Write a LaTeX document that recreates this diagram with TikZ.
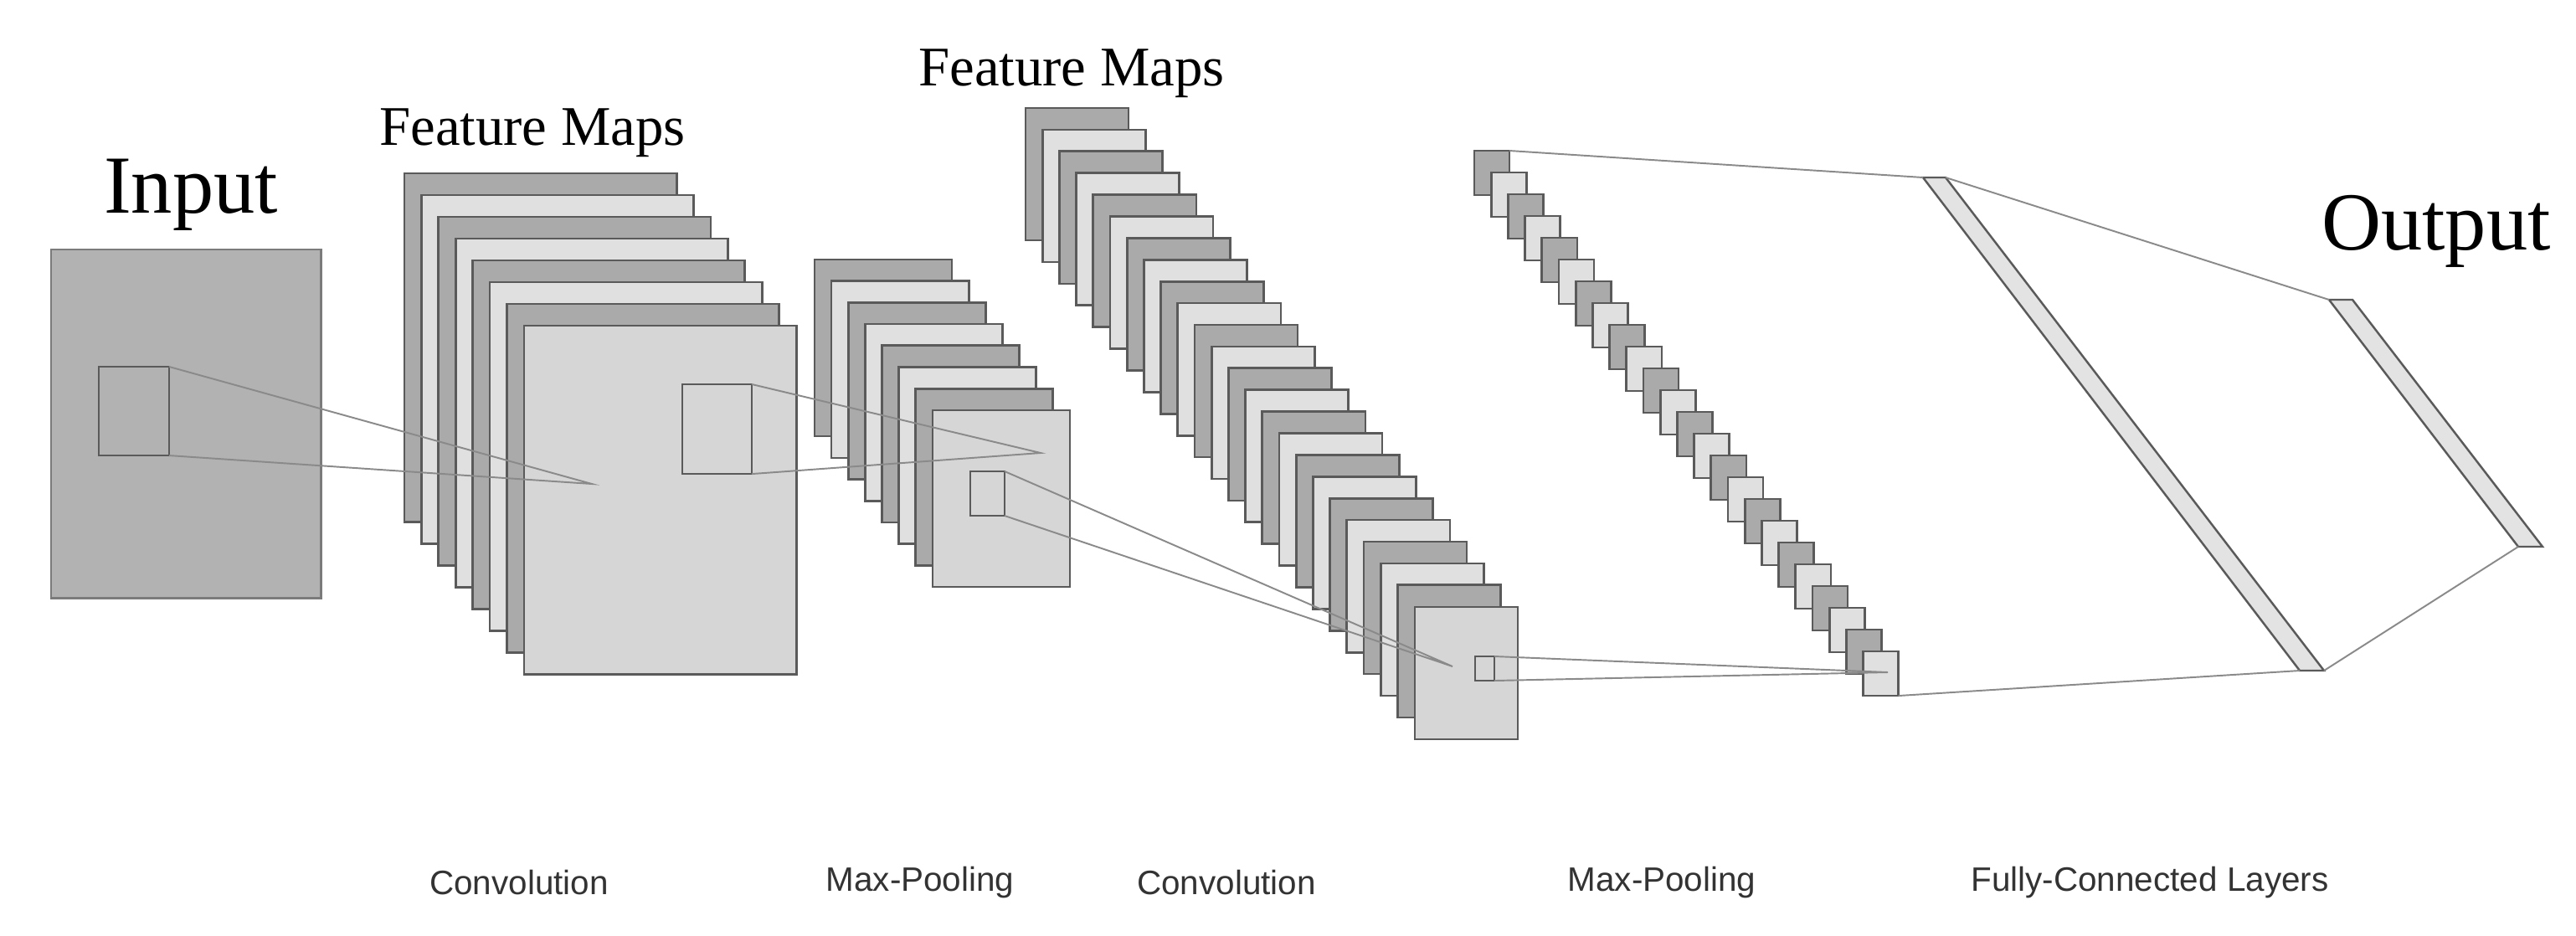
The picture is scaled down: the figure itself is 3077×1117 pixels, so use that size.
\documentclass[tikz,border=0pt]{standalone}
\usepackage{fontspec}
\setmainfont{Liberation Serif}
\newfontfamily\sansf{Liberation Sans}
\definecolor{dk}{HTML}{AAAAAA}
\definecolor{lt}{HTML}{E0E0E0}
\definecolor{fr}{HTML}{D6D6D6}
\definecolor{ol}{HTML}{5A5A5A}
\definecolor{ln}{HTML}{8A8A8A}
\definecolor{lab}{HTML}{333333}
\begin{document}
\begin{tikzpicture}[x=0.01cm,y=-0.01cm,
  box/.style={draw=ol,line width=0.75pt,inner sep=0pt,outer sep=0pt,anchor=north west},
  big/.style={box,minimum width=3.25cm,minimum height=4.16cm},
  mid/.style={box,minimum width=1.64cm,minimum height=2.11cm},
  tall/.style={box,minimum width=1.23cm,minimum height=1.58cm},
  tiny/.style={box,minimum width=0.42cm,minimum height=0.53cm},
  conn/.style={draw=ln,line width=0.55pt},
  bar/.style={draw=ol,line width=0.7pt,fill=lt!90!white},
  ttl/.style={font=\fontsize{28}{30}\selectfont,anchor=base},
  fmt/.style={font=\fontsize{19}{21}\selectfont,anchor=base},
  lbl/.style={font=\sansf\fontsize{11.5}{13}\selectfont,text=lab}]
\useasboundingbox (0,0) rectangle (3077,1117);
\fill[white] (0,0) rectangle (3077,1117);

% Input
\node[ttl] (tin) at (228,254) {Input};
\node[box,fill=dk!90!white,draw=ol!80!white,minimum width=3.22cm,minimum height=4.16cm] (inp) at (61,298) {};
\node[box,minimum width=0.84cm,minimum height=1.06cm] (insq) at (118,438) {};

% Conv 1
\node[fmt] (tf1) at (636,173) {Feature Maps};
\foreach \i in {0,...,6}{
  \pgfmathsetmacro\xx{483+20.4*\i}\pgfmathsetmacro\yy{207+26*\i}
  \ifodd\i \def\cc{lt}\else\def\cc{dk}\fi
  \node[big,fill=\cc] (c1-\i) at (\xx,\yy) {};
}
\node[big,fill=fr] (c1-7) at (626,389) {};
\node[box,minimum width=0.83cm,minimum height=1.07cm] (c1sq) at (815,459) {};

% Pool 1
\foreach \i in {0,...,6}{
  \pgfmathsetmacro\xx{973+20.1*\i}\pgfmathsetmacro\yy{310+25.7*\i}
  \ifodd\i \def\cc{lt}\else\def\cc{dk}\fi
  \node[mid,fill=\cc] (p1-\i) at (\xx,\yy) {};
}
\node[mid,fill=fr] (p1-7) at (1114,490) {};
\node[box,minimum width=0.41cm,minimum height=0.53cm] (p1sq) at (1159,563) {};

% Conv 2
\node[fmt] (tf2) at (1280,102) {Feature Maps};
\foreach \i in {0,...,22}{
  \pgfmathsetmacro\xx{1225+20.2*\i}\pgfmathsetmacro\yy{129+25.9*\i}
  \ifodd\i \def\cc{lt}\else\def\cc{dk}\fi
  \node[tall,fill=\cc] (c2-\i) at (\xx,\yy) {};
}
\node[tall,fill=fr] (c2-23) at (1690,725) {};
\node[box,minimum width=0.23cm,minimum height=0.29cm] (c2sq) at (1762,784) {};

% Pool 2
\foreach \i in {0,...,23}{
  \pgfmathsetmacro\xx{1761+20.2*\i}\pgfmathsetmacro\yy{180+26*\i}
  \ifodd\i \def\cc{lt}\else\def\cc{dk}\fi
  \node[tiny,fill=\cc] (p2-\i) at (\xx,\yy) {};
}

% Fully connected
\coordinate (f1a) at (2297,212); \coordinate (f1b) at (2324,212);
\coordinate (f1c) at (2776,801); \coordinate (f1d) at (2747,801);
\draw[bar] (f1a) -- (f1b) -- (f1c) -- (f1d) -- cycle;
\coordinate (f2a) at (2782,358); \coordinate (f2b) at (2810,358);
\coordinate (f2c) at (3037,653); \coordinate (f2d) at (3008,653);
\draw[bar] (f2a) -- (f2b) -- (f2c) -- (f2d) -- cycle;
\node[ttl] (tout) at (2910,298) {Output};

% connectors
\coordinate (v1) at (707,578);
\coordinate (v2) at (1243,541);
\coordinate (v3) at (1735,796);
\coordinate (v4) at (2255,803);
\draw[conn] (insq.north east) -- (v1) -- (insq.south east);
\draw[conn] (c1sq.north east) -- (v2) -- (c1sq.south east);
\draw[conn] (p1sq.north east) -- (v3) -- (p1sq.south east);
\draw[conn] (c2sq.north east) -- (v4) -- (c2sq.south east);
\draw[conn] (p2-0.north east) -- (f1a);
\draw[conn] (p2-23.south east) -- (f1d);
\draw[conn] (f1b) -- (f2a);
\draw[conn] (f1c) -- (f2d);

% labels
\node[lbl] (l1) at (620,1054) {Convolution};
\node[lbl] (l2) at (1099,1054) {Max-Pooling};
\node[lbl] (l3) at (1465,1054) {Convolution};
\node[lbl] (l4) at (1985,1054) {Max-Pooling};
\node[lbl] (l5) at (2568,1054) {Fully-Connected Layers};
\end{tikzpicture}
\end{document}
